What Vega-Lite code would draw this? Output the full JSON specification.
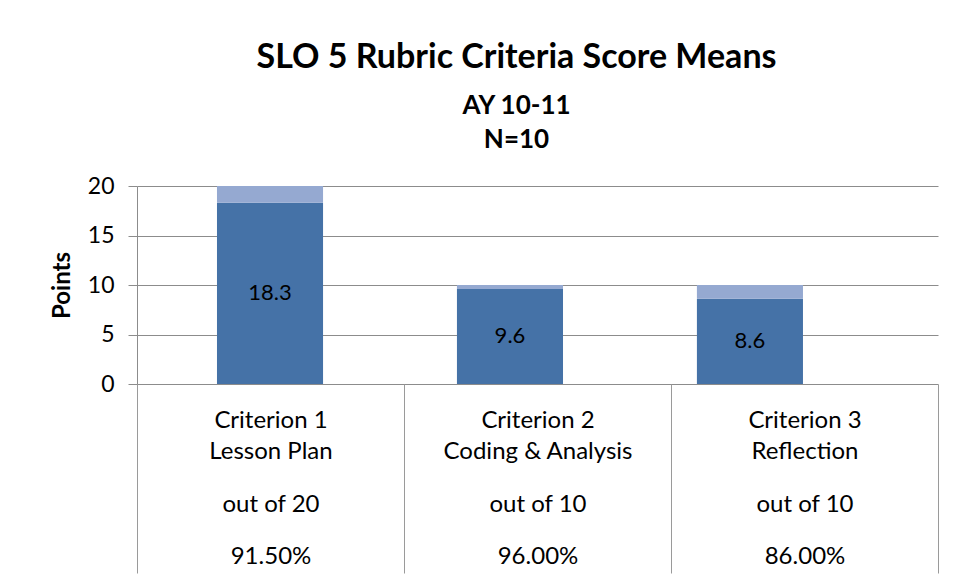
{
  "$schema": "https://vega.github.io/schema/vega-lite/v6.json",
  "width": 801,
  "height": 198,
  "autosize": {"type": "none"},
  "padding": {"left": 137, "top": 186, "right": 23, "bottom": 196},
  "background": "white",
  "config": {
    "font": "Lato",
    "view": {"stroke": null}
  },
  "title": {
    "text": "SLO 5 Rubric Criteria Score Means",
    "subtitle": ["AY 10-11", "N=10"],
    "anchor": "middle",
    "frame": "group",
    "dx": -21,
    "offset": 22,
    "fontSize": 34,
    "fontWeight": "bold",
    "color": "#000000",
    "subtitleFontSize": 26,
    "subtitleFontWeight": "bold",
    "subtitleColor": "#000000",
    "subtitleLineHeight": 34,
    "subtitlePadding": 18
  },
  "data": {
    "values": [
      {"criterion": "Criterion 1|Lesson Plan|out of 20|91.50%", "segment": "Mean", "value": 18.3, "rank": 1},
      {"criterion": "Criterion 1|Lesson Plan|out of 20|91.50%", "segment": "Remaining", "value": 1.7, "rank": 2},
      {"criterion": "Criterion 2|Coding & Analysis|out of 10|96.00%", "segment": "Mean", "value": 9.6, "rank": 1},
      {"criterion": "Criterion 2|Coding & Analysis|out of 10|96.00%", "segment": "Remaining", "value": 0.4, "rank": 2},
      {"criterion": "Criterion 3|Reflection|out of 10|86.00%", "segment": "Mean", "value": 8.6, "rank": 1},
      {"criterion": "Criterion 3|Reflection|out of 10|86.00%", "segment": "Remaining", "value": 1.4, "rank": 2}
    ]
  },
  "resolve": {"scale": {"x": "independent"}},
  "layer": [
    {
      "mark": {"type": "bar"},
      "encoding": {
        "x": {
          "field": "criterion",
          "type": "nominal",
          "sort": null,
          "scale": {"type": "band", "paddingInner": 0.558, "paddingOuter": 0.448, "align": 0.372},
          "axis": null
        },
        "y": {
          "field": "value",
          "type": "quantitative",
          "stack": "zero",
          "scale": {"domain": [0, 20]},
          "axis": {
            "title": "Points",
            "titleFontSize": 24,
            "titleFontWeight": "bold",
            "titleColor": "#000000",
            "titlePadding": 13,
            "values": [0, 5, 10, 15, 20],
            "labelFontSize": 23,
            "labelColor": "#000000",
            "labelPadding": 14,
            "tickSize": 9,
            "tickColor": "#8c8c8c",
            "domainColor": "#8c8c8c",
            "gridColor": "#8c8c8c",
            "gridOpacity": 1
          }
        },
        "color": {
          "field": "segment",
          "type": "nominal",
          "scale": {"domain": ["Mean", "Remaining"], "range": ["#4572a7", "#95a9d1"]},
          "legend": null
        },
        "order": {"field": "rank", "type": "quantitative"}
      }
    },
    {
      "transform": [{"filter": "datum.segment === 'Mean'"}],
      "mark": {"type": "text", "fontSize": 22, "color": "#000000", "baseline": "middle", "align": "center"},
      "encoding": {
        "x": {
          "field": "criterion",
          "type": "nominal",
          "sort": null,
          "scale": {"type": "band", "paddingInner": 0.558, "paddingOuter": 0.448, "align": 0.372},
          "axis": null
        },
        "y": {"field": "value", "type": "quantitative", "stack": "zero", "bandPosition": 0.5},
        "text": {"field": "value", "type": "quantitative", "format": ".1f"}
      }
    },
    {
      "transform": [{"filter": "datum.segment === 'Mean'"}],
      "mark": {"type": "bar", "opacity": 0},
      "encoding": {
        "x": {
          "field": "criterion",
          "type": "nominal",
          "sort": null,
          "scale": {"type": "band", "paddingInner": 0, "paddingOuter": 0},
          "axis": {
            "title": null,
            "domain": false,
            "tickBand": "extent",
            "tickSize": 189,
            "tickColor": "#9a9a9a",
            "tickWidth": 1,
            "labelPadding": -165,
            "labelAngle": 0,
            "labelBaseline": "top",
            "labelFontSize": 24,
            "labelLimit": 260,
            "labelColor": "#000000",
            "labelLineHeight": 10.5,
            "labelExpr": "[split(datum.label,'|')[0], '\u200b', '\u200b', split(datum.label,'|')[1], '\u200b', '\u200b', '\u200b', '\u200b', split(datum.label,'|')[2], '\u200b', '\u200b', '\u200b', '\u200b', split(datum.label,'|')[3]]"
          }
        },
        "y": {"field": "value", "type": "quantitative"}
      }
    }
  ]
}
